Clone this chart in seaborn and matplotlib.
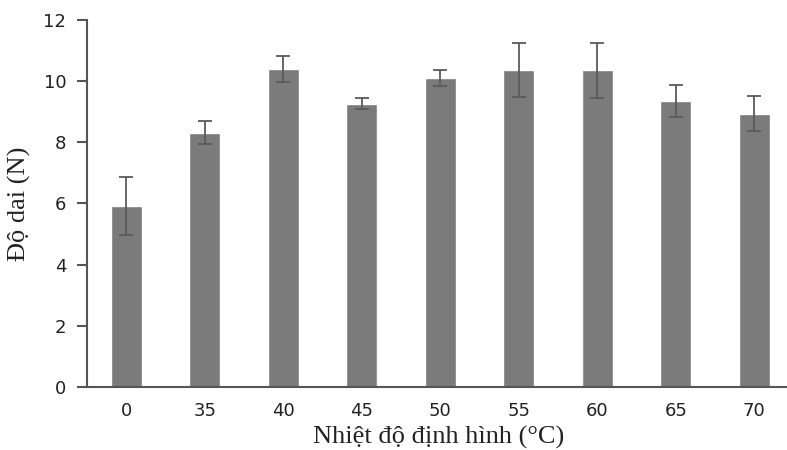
import matplotlib
matplotlib.use("Agg")
import matplotlib.pyplot as plt
import numpy as np
import pandas as pd
import seaborn as sns
from matplotlib.ticker import FixedLocator

# Data
temperatures = ["0", "35", "40", "45", "50", "55", "60", "65", "70"]
strength = [5.92, 8.32, 10.39, 9.26, 10.11, 10.36, 10.36, 9.36, 8.94]
strength_err = [0.95, 0.37, 0.42, 0.18, 0.27, 0.89, 0.90, 0.53, 0.56]

df = pd.DataFrame({"temp": temperatures, "strength": strength})

sns.set_style("white")
plt.rcParams["font.family"] = ["DejaVu Sans"]

fig = plt.figure(figsize=(7.87, 4.5), dpi=100)
ax = fig.add_axes([0.1105, 0.14, 0.8895, 0.8156])

sns.barplot(data=df, x="temp", y="strength", order=temperatures,
            color="#7b7b7b", saturation=1, width=0.39, errorbar=None, ax=ax)

# Error bars, one per bar, on the categorical positions
ax.errorbar(x=np.arange(len(temperatures)), y=strength, yerr=strength_err,
            fmt="none", ecolor="#5a5a5a", elinewidth=1.3, capsize=5, capthick=1.3)

axis_color = "#555555"
ax.set_ylim(0, 12)
ax.set_xlim(-0.5, 8.417)
ax.set_yticks(range(0, 13, 2))

for side in ["top", "right"]:
    ax.spines[side].set_visible(False)
for side in ["left", "bottom"]:
    ax.spines[side].set_color(axis_color)
    ax.spines[side].set_linewidth(1.5)

# Category ticks carry labels, boundary ticks carry the marks
ax.xaxis.set_minor_locator(FixedLocator(np.arange(-0.5, len(temperatures), 1.0)))
ax.tick_params(axis="x", which="major", length=0, pad=11, labelsize=13, labelcolor="#222222")
ax.tick_params(axis="x", which="minor", length=6, width=1.5, color=axis_color, direction="out")
ax.tick_params(axis="y", length=7, width=1.5, color=axis_color, direction="out",
               pad=8, labelsize=13, labelcolor="#222222", left=True)

label_font = dict(family="Liberation Serif", size=19, color="#222222")
ax.set_xlabel("Nhiệt độ định hình (°C)", **label_font)
ax.set_ylabel("Độ dai (N)", **label_font)
ax.xaxis.set_label_coords(0.503, -0.105)
ax.yaxis.set_label_coords(-0.08, 0.5)

fig.savefig("out.png", dpi=100)
